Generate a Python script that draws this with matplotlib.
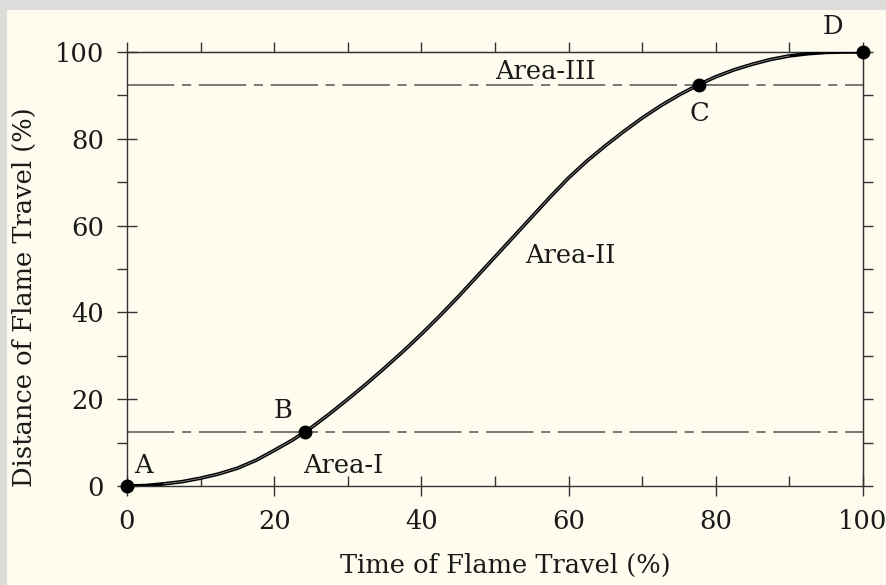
import matplotlib
matplotlib.use("Agg")
import matplotlib.pyplot as plt
from matplotlib.patches import Rectangle
from matplotlib.ticker import MultipleLocator

# Mass-fraction style burn curve: distance of flame travel vs. time of flame travel
time_pct = [0, 2.5, 5, 7.5, 10, 12.5, 15, 17.5, 20, 22.5, 24.2, 25, 27.5, 30,
            32.5, 35, 37.5, 40, 42.5, 45, 47.5, 50, 52.5, 55, 57.5, 60, 62.5,
            65, 67.5, 70, 72.5, 75, 77.7, 80, 82.5, 85, 87.5, 90, 92.5, 95,
            97.5, 100]
distance_pct = [0, 0.1, 0.5, 1.0, 1.8, 2.8, 4.1, 5.9, 8.2, 10.6, 12.5, 13.4,
                16.6, 20.0, 23.5, 27.2, 31.0, 35.0, 39.2, 43.6, 48.2, 52.8,
                57.4, 62.0, 66.6, 71.0, 74.9, 78.4, 81.7, 84.8, 87.6, 90.1,
                92.5, 94.3, 95.9, 97.2, 98.3, 99.1, 99.6, 99.9, 100, 100]

# Characteristic points A-D and the area boundaries
point_names = ["A", "B", "C", "D"]
point_time = [0, 24.2, 77.7, 100]
point_dist = [0, 12.5, 92.5, 100]
boundary_levels = [12.5, 92.5]
area_names = ["Area-I", "Area-II", "Area-III"]

x_ticks = [0, 20, 40, 60, 80, 100]
y_ticks = [0, 20, 40, 60, 80, 100]

FONT = "DejaVu Serif"
FS = 18.5
TXT = "#1a1a1a"
AX = "#333333"
CREAM = "#fefbef"

W, H = 886, 585
fig = plt.figure(figsize=(W / 100, H / 100), dpi=100)
fig.patch.set_facecolor("#dedcda")
fig.add_artist(Rectangle((7 / W, 0), 1, (H - 10) / H, transform=fig.transFigure,
                         facecolor=CREAM, edgecolor="none", zorder=-10))

left, right, top, bottom = 127, 863, 52, 486
ax = fig.add_axes([left / W, (H - bottom) / H, (right - left) / W, (bottom - top) / H])
ax.set_facecolor(CREAM)
ax.set_xlim(0, 100)
ax.set_ylim(0, 100)

for s in ax.spines.values():
    s.set_color(AX)
    s.set_linewidth(1.0)

# bottom / left: labelled major ticks crossing the frame
ax.xaxis.set_major_locator(MultipleLocator(20))
ax.xaxis.set_minor_locator(MultipleLocator(10))
ax.yaxis.set_major_locator(MultipleLocator(20))
ax.yaxis.set_minor_locator(MultipleLocator(10))
ax.set_xticks(x_ticks)
ax.set_yticks(y_ticks)
ax.tick_params(axis="x", which="major", direction="inout", length=15, width=1.0,
               color=AX, pad=9, labelsize=FS, labelcolor=TXT)
ax.tick_params(axis="x", which="minor", direction="in", length=7.5, width=1.0, color=AX)
ax.tick_params(axis="y", which="major", direction="inout", length=15, width=1.0,
               color=AX, pad=9, labelsize=FS, labelcolor=TXT)
ax.tick_params(axis="y", which="minor", direction="out", length=7.5, width=1.0, color=AX)
for lab in ax.get_xticklabels() + ax.get_yticklabels():
    lab.set_fontfamily(FONT)

# top / right: plain outward ticks every 10
top_ax = ax.secondary_xaxis("top")
top_ax.xaxis.set_major_locator(MultipleLocator(10))
top_ax.tick_params(direction="out", length=7.5, width=1.0, color=AX, labeltop=False)
top_ax.spines["top"].set_color(AX)
right_ax = ax.secondary_yaxis("right")
right_ax.yaxis.set_major_locator(MultipleLocator(10))
right_ax.tick_params(direction="out", length=7.5, width=1.0, color=AX, labelright=False)
right_ax.spines["right"].set_color(AX)

ax.set_xlabel("Time of Flame Travel (%)", fontfamily=FONT, fontsize=FS, color=TXT)
ax.set_ylabel("Distance of Flame Travel (%)", fontfamily=FONT, fontsize=FS, color=TXT)
ax.xaxis.set_label_coords(0.514, -0.182)
ax.xaxis.label.set_verticalalignment("center")
ax.yaxis.set_label_coords(-0.139, 0.435)
ax.yaxis.label.set_verticalalignment("center")

# area boundaries
for lvl in boundary_levels:
    ax.axhline(lvl, color="#555555", lw=1.1, dashes=(31, 5, 6, 5), zorder=2)

# burn curve
ax.plot(time_pct, distance_pct, color="black", lw=2.6, solid_capstyle="round", zorder=3)
ax.plot(time_pct[2:-4], distance_pct[2:-4], color="#8a8a8a", lw=0.6, zorder=4)
ax.plot(point_time, point_dist, "o", color="black", ms=9, zorder=5, clip_on=False)

label_pos = {"A": (2.2, 4.8), "B": (21.2, 17.5), "C": (77.8, 85.9), "D": (95.9, 105.8)}
for name in point_names:
    x, y = label_pos[name]
    ax.text(x, y, name, fontfamily=FONT, fontsize=FS, color=TXT,
            ha="center", va="center", clip_on=False)

area_pos = [(29.4, 4.8), (60.2, 53.2), (56.8, 95.4)]
for name, (x, y) in zip(area_names, area_pos):
    ax.text(x, y, name, fontfamily=FONT, fontsize=FS, color=TXT, ha="center", va="center")

fig.savefig("out.png", dpi=100, facecolor=fig.get_facecolor())
